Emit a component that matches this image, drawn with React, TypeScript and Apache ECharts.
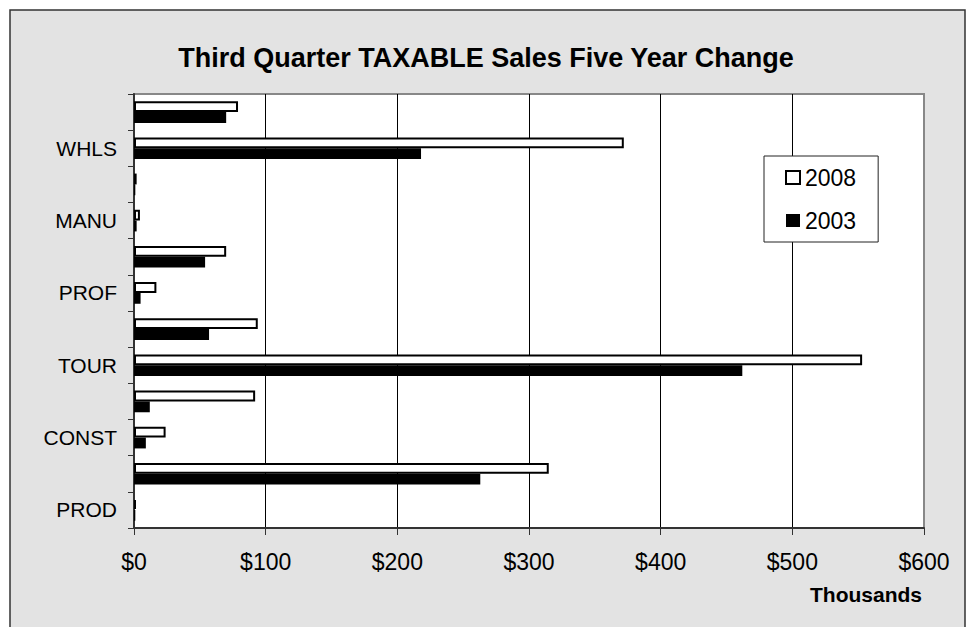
import React, { useEffect, useRef } from 'react';
import * as echarts from 'echarts';

// Categories listed bottom -> top (ECharts category y-axis starts at the bottom)
const categories: string[] = ['PROD', '', 'CONST', '', 'TOUR', '', 'PROF', '', 'MANU', '', 'WHLS', ''];
const sales2008: number[] = [1.5, 315, 24, 92, 553, 94, 17, 70, 4.5, 2, 372, 79];
const sales2003: number[] = [1, 263, 9, 12, 462, 57, 5, 54, 2, 1, 218, 70];
const seriesNames: string[] = ['2008', '2003'];
const xMin = 0;
const xMax = 600;
const xStep = 100;

const FONT = '"Liberation Sans", Arial, Helvetica, sans-serif';

export default function App() {
  const ref = useRef<HTMLDivElement>(null);

  useEffect(() => {
    if (!ref.current) return;
    const chart = echarts.init(ref.current, undefined, { renderer: 'svg' });
    chart.setOption({
      animation: false,
      backgroundColor: '#ffffff',
      textStyle: { fontFamily: FONT },
      graphic: [
        {
          type: 'rect',
          z: -10,
          silent: true,
          shape: { x: 10, y: 10, width: 955, height: 640 },
          style: { fill: '#e3e3e3', stroke: '#333333', lineWidth: 1.5 },
        },
      ],
      title: {
        text: 'Third Quarter TAXABLE Sales Five Year Change',
        left: 'center',
        top: 44,
        padding: 0,
        textStyle: { fontSize: 27, fontWeight: 'bold', color: '#000', fontFamily: FONT },
      },
      legend: {
        data: seriesNames,
        orient: 'vertical',
        left: 764,
        top: 156,
        padding: [10, 22, 10, 21],
        itemGap: 20,
        itemWidth: 14,
        itemHeight: 13,
        icon: 'rect',
        selectedMode: false,
        backgroundColor: '#ffffff',
        borderColor: '#222222',
        borderWidth: 1,
        textStyle: { fontSize: 23, color: '#000', fontFamily: FONT },
      },
      grid: {
        left: 134,
        right: 48,
        top: 94,
        bottom: 99,
        show: true,
        backgroundColor: '#ffffff',
        borderColor: '#888888',
        borderWidth: 2,
      },
      xAxis: {
        type: 'value',
        min: xMin,
        max: xMax,
        interval: xStep,
        name: 'Thousands',
        nameLocation: 'end',
        nameGap: -2,
        nameTextStyle: {
          align: 'right',
          verticalAlign: 'top',
          padding: [56, 0, 0, 0],
          fontSize: 21,
          fontWeight: 'bold',
          color: '#000',
          fontFamily: FONT,
        },
        axisLine: { show: true, lineStyle: { color: '#333', width: 2 } },
        axisTick: { show: true, length: 7, lineStyle: { color: '#333', width: 1 } },
        axisLabel: {
          formatter: (v: number) => '$' + v,
          fontSize: 23,
          color: '#000',
          margin: 22,
          fontFamily: FONT,
        },
        splitLine: { show: true, showMaxLine: false, lineStyle: { color: '#000', width: 1 } },
      },
      yAxis: {
        type: 'category',
        data: categories,
        axisLine: { show: true, lineStyle: { color: '#333', width: 2 } },
        axisTick: { show: true, length: 6, interval: 0, lineStyle: { color: '#333', width: 1 } },
        axisLabel: { interval: 0, fontSize: 21, color: '#000', margin: 17, fontFamily: FONT },
        splitLine: { show: false },
      },
      series: [
        {
          name: seriesNames[0],
          type: 'bar',
          data: sales2008,
          barCategoryGap: '40%',
          barGap: '0%',
          itemStyle: { color: '#ffffff', borderColor: '#000000', borderWidth: 2 },
        },
        {
          name: seriesNames[1],
          type: 'bar',
          data: sales2003,
          barCategoryGap: '40%',
          barGap: '0%',
          itemStyle: { color: '#000000' },
        },
      ],
    });
    return () => chart.dispose();
  }, []);

  return (
    <div
      ref={ref}
      style={{ position: 'absolute', left: 0, top: 0, width: 972, height: 627 }}
    />
  );
}
